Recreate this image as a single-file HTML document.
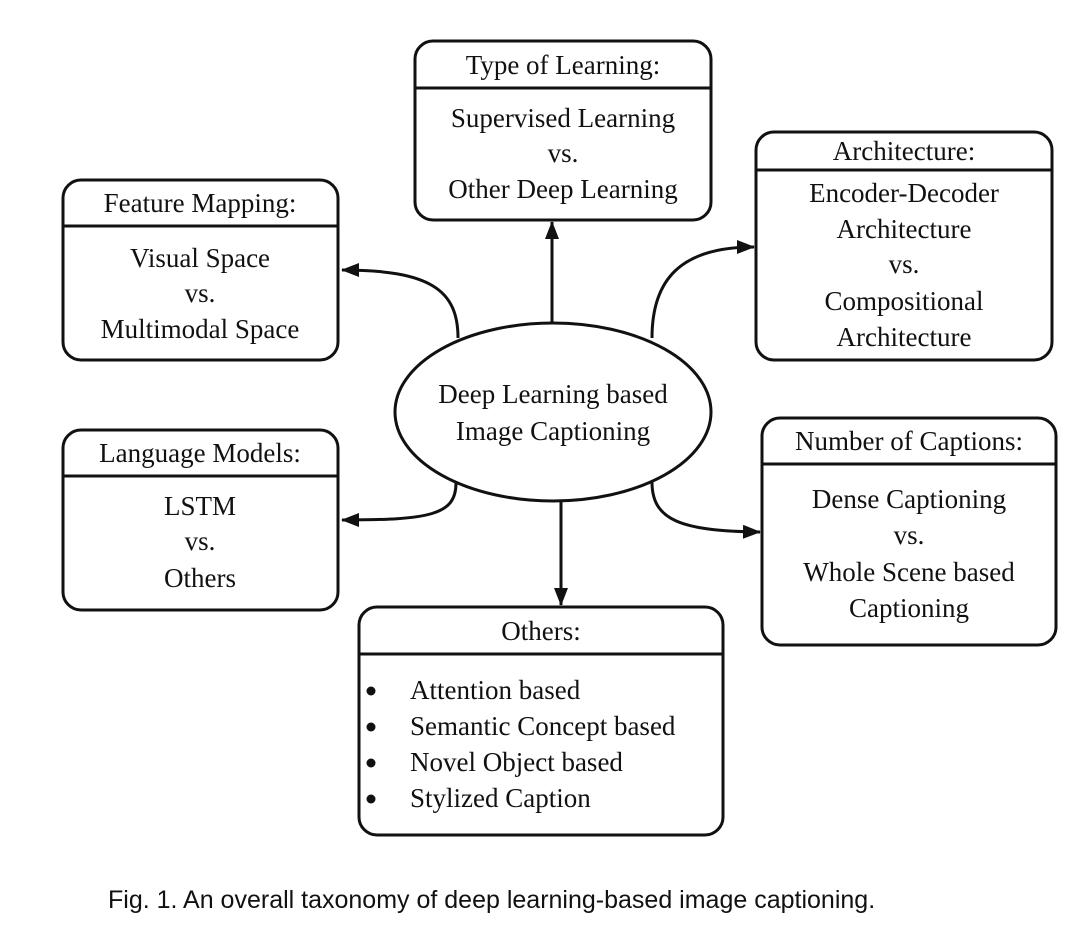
<!DOCTYPE html>
<html><head><meta charset="utf-8"><style>
html,body{margin:0;padding:0;background:#fff;}
svg{display:block}
text{font-family:"Liberation Serif",serif;font-size:27px;fill:#111;}
.cap{font-family:"Liberation Sans",sans-serif;font-size:25px;}
</style></head><body>
<svg width="1080" height="943" viewBox="0 0 1080 943" xmlns="http://www.w3.org/2000/svg">
<defs><marker id="a" markerWidth="10" markerHeight="10" refX="9" refY="5" orient="auto" markerUnits="userSpaceOnUse"><path d="M0,0 L10,5 L0,10 z" fill="#111"/></marker>
<marker id="b" markerWidth="18" markerHeight="14" refX="17" refY="7" orient="auto" markerUnits="userSpaceOnUse"><path d="M0,0 L18,7 L0,14 z" fill="#111"/></marker></defs>
<g fill="none" stroke="#111" stroke-width="3">
<rect x="415" y="41" width="296" height="179" rx="18"/><line x1="415" y1="88" x2="711" y2="88"/>
<rect x="63" y="180" width="275" height="180" rx="18"/><line x1="63" y1="226" x2="338" y2="226"/>
<rect x="756" y="132" width="296" height="228" rx="18"/><line x1="756" y1="170" x2="1052" y2="170"/>
<rect x="63" y="430" width="275" height="180" rx="18"/><line x1="63" y1="476" x2="338" y2="476"/>
<rect x="762" y="418" width="294" height="227" rx="18"/><line x1="762" y1="464" x2="1056" y2="464"/>
<rect x="359" y="607" width="364" height="228" rx="18"/><line x1="359" y1="654" x2="723" y2="654"/>
<ellipse cx="553" cy="412" rx="158" ry="89"/>
<path d="M552,323 V222" marker-end="url(#b)"/>
<path d="M458,338 C458,290 430,270 342,270" marker-end="url(#b)"/>
<path d="M652,338 C652,280 680,247 754,247" marker-end="url(#b)"/>
<path d="M456,483 C456,515 430,520 342,520" marker-end="url(#b)"/>
<path d="M652,482 C652,520 680,531 760,532" marker-end="url(#b)"/>
<path d="M561,500 V605" marker-end="url(#b)"/>
</g>
<g text-anchor="middle">
<text x="563" y="74">Type of Learning:</text>
<text x="563" y="127">Supervised Learning</text>
<text x="563" y="162">vs.</text>
<text x="563" y="198">Other Deep Learning</text>
<text x="200" y="212">Feature Mapping:</text>
<text x="200" y="267">Visual Space</text>
<text x="200" y="302">vs.</text>
<text x="200" y="338">Multimodal Space</text>
<text x="904" y="160">Architecture:</text>
<text x="904" y="202">Encoder-Decoder</text>
<text x="904" y="238">Architecture</text>
<text x="904" y="273">vs.</text>
<text x="904" y="310">Compositional</text>
<text x="904" y="346">Architecture</text>
<text x="200" y="462">Language Models:</text>
<text x="200" y="515">LSTM</text>
<text x="200" y="550">vs.</text>
<text x="200" y="587">Others</text>
<text x="909" y="450">Number of Captions:</text>
<text x="909" y="508">Dense Captioning</text>
<text x="909" y="544">vs.</text>
<text x="909" y="581">Whole Scene based</text>
<text x="909" y="617">Captioning</text>
<text x="541" y="640">Others:</text>
<text x="553" y="403">Deep Learning based</text>
<text x="553" y="440">Image Captioning</text>
</g>
<g fill="#111"><circle cx="371" cy="691" r="4.5"/><circle cx="371" cy="727" r="4.5"/><circle cx="371" cy="763" r="4.5"/><circle cx="371" cy="799" r="4.5"/></g>
<text x="410" y="699">Attention based</text>
<text x="410" y="735">Semantic Concept based</text>
<text x="410" y="771">Novel Object based</text>
<text x="410" y="807">Stylized Caption</text>
<text class="cap" x="108" y="908">Fig. 1.  An overall taxonomy of deep learning-based image captioning.</text>
</svg>
</body></html>
